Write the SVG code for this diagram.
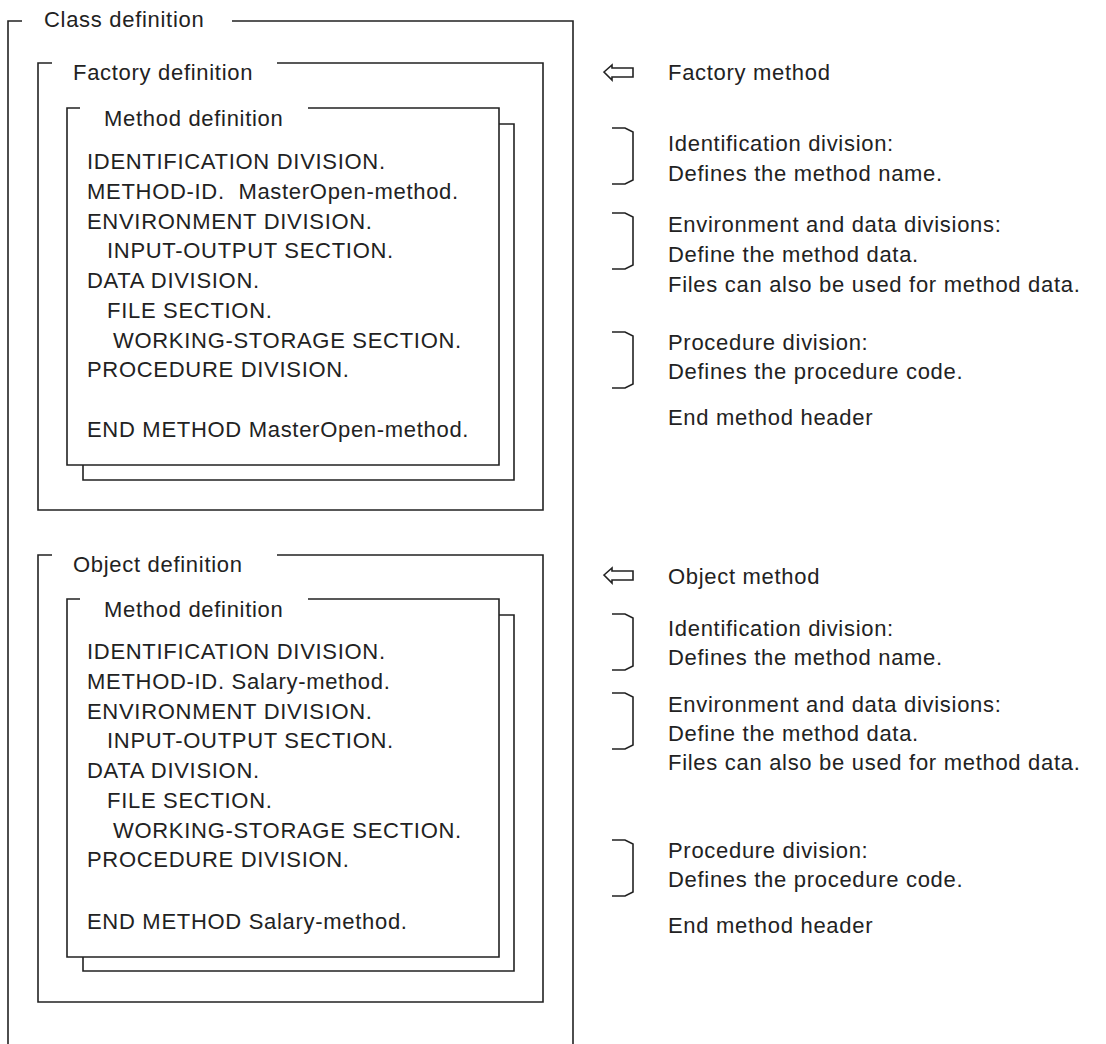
<svg xmlns="http://www.w3.org/2000/svg" width="1106" height="1044" viewBox="0 0 1106 1044">
<style>
.fr{fill:none;stroke:#222;stroke-width:1.6}
.bx{fill:#fff;stroke:#222;stroke-width:1.6}
text{font-family:"Liberation Sans",Arial,sans-serif;font-size:22px;fill:#222;letter-spacing:0.7px;white-space:pre}
</style>
<rect width="1106" height="1044" fill="#fff"/>
<g id="class-definition">
<path class="fr" d="M22,21 H8 V1044 M232,21 H573 V1044"/>
<text x="44" y="27">Class definition</text>
</g>
<g id="factory-definition">
<path class="fr" d="M52,63 H38 V510 H543 V63 H277"/>
<text x="73" y="80">Factory definition</text>
</g>
<g id="factory-method-definition">
<path class="fr" d="M499,124 H514 V480 H83 V465"/>
<path class="fr" d="M80,108 H67 V465 H499 V108 H308"/>
<text x="104" y="126">Method definition</text>
<text x="87" y="169">IDENTIFICATION DIVISION.</text>
<text x="87" y="199">METHOD-ID.  MasterOpen-method.</text>
<text x="87" y="229">ENVIRONMENT DIVISION.</text>
<text x="107" y="258">INPUT-OUTPUT SECTION.</text>
<text x="87" y="288">DATA DIVISION.</text>
<text x="107" y="318">FILE SECTION.</text>
<text x="113" y="348">WORKING-STORAGE SECTION.</text>
<text x="87" y="377">PROCEDURE DIVISION.</text>
<text x="87" y="437">END METHOD MasterOpen-method.</text>
</g>
<g id="object-definition">
<path class="fr" d="M52,555 H38 V1002 H543 V555 H277"/>
<text x="73" y="572">Object definition</text>
</g>
<g id="object-method-definition">
<path class="fr" d="M499,615 H514 V971 H83 V957"/>
<path class="fr" d="M80,599 H67 V957 H499 V599 H308"/>
<text x="104" y="617">Method definition</text>
<text x="87" y="659">IDENTIFICATION DIVISION.</text>
<text x="87" y="689">METHOD-ID. Salary-method.</text>
<text x="87" y="719">ENVIRONMENT DIVISION.</text>
<text x="107" y="748">INPUT-OUTPUT SECTION.</text>
<text x="87" y="778">DATA DIVISION.</text>
<text x="107" y="808">FILE SECTION.</text>
<text x="113" y="838">WORKING-STORAGE SECTION.</text>
<text x="87" y="867">PROCEDURE DIVISION.</text>
<text x="87" y="929">END METHOD Salary-method.</text>
</g>
<g id="factory-annotations">
<polygon class="bx" points="604,72 612,65 612,68 633,68 633,77 612,77 612,80"/>
<text x="668" y="80">Factory method</text>
<text x="668" y="151">Identification division:</text>
<text x="668" y="181">Defines the method name.</text>
<text x="668" y="232">Environment and data divisions:</text>
<text x="668" y="262">Define the method data.</text>
<text x="668" y="292">Files can also be used for method data.</text>
<text x="668" y="350">Procedure division:</text>
<text x="668" y="379">Defines the procedure code.</text>
<text x="668" y="425">End method header</text>
</g>
<g id="object-annotations">
<polygon class="bx" points="604,575 612,568 612,571 633,571 633,580 612,580 612,583"/>
<text x="668" y="584">Object method</text>
<text x="668" y="636">Identification division:</text>
<text x="668" y="665">Defines the method name.</text>
<text x="668" y="712">Environment and data divisions:</text>
<text x="668" y="741">Define the method data.</text>
<text x="668" y="770">Files can also be used for method data.</text>
<text x="668" y="858">Procedure division:</text>
<text x="668" y="887">Defines the procedure code.</text>
<text x="668" y="933">End method header</text>
</g>
<g id="connectors">
<path class="fr" d="M612,128 H625 L633,132 V180 L625,184 H612"/>
<path class="fr" d="M612,213 H625 L633,217 V265 L625,269 H612"/>
<path class="fr" d="M612,332 H625 L633,336 V384 L625,388 H612"/>
<path class="fr" d="M612,614 H625 L633,618 V666 L625,670 H612"/>
<path class="fr" d="M612,693 H625 L633,697 V745 L625,749 H612"/>
<path class="fr" d="M612,840 H625 L633,844 V892 L625,896 H612"/>
</g>
</svg>
